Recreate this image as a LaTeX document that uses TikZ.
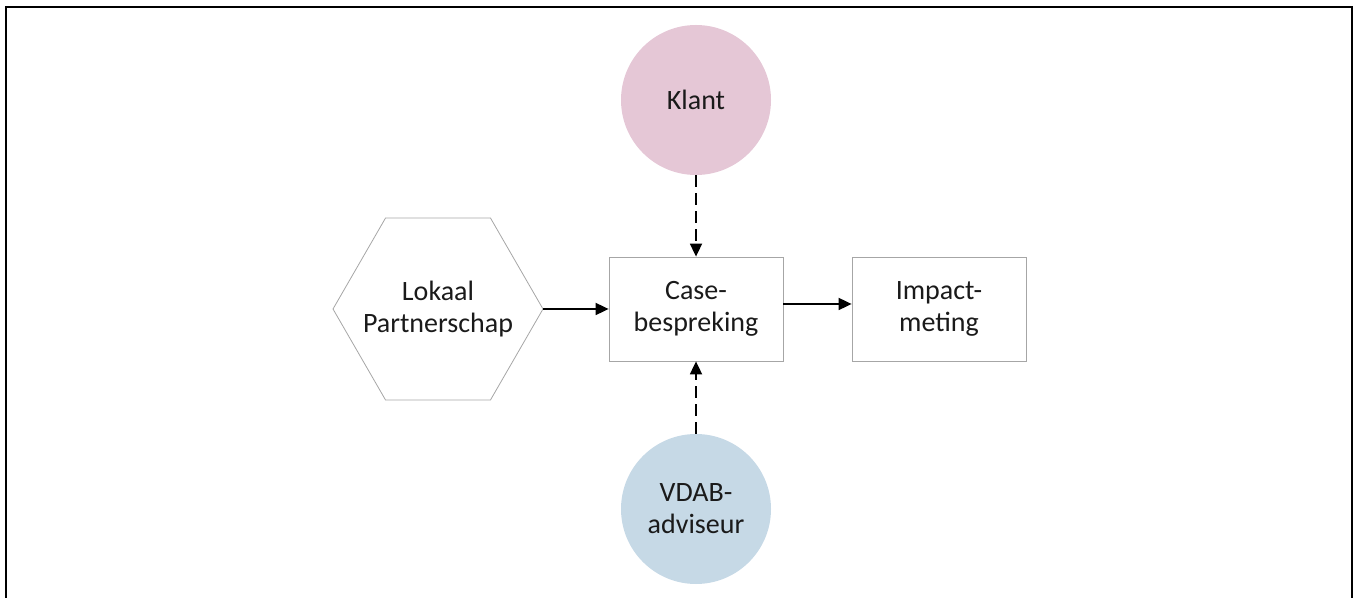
\documentclass[tikz,border=0pt]{standalone}
\usepackage{fontspec}
\setmainfont{Carlito}
\usetikzlibrary{shapes.geometric,arrows.meta}
\definecolor{klantpink}{HTML}{E5C7D6}
\definecolor{vdabblue}{HTML}{C6D9E6}
\definecolor{boxgray}{HTML}{A6A6A6}
\definecolor{txt}{HTML}{1A1A1A}
\tikzset{
  lbl/.style={font=\fontsize{28}{32}\selectfont, text=txt, align=center},
  procbox/.style={lbl, draw=boxgray, line width=0.8pt, minimum width=174pt, minimum height=104pt, inner sep=0pt},
  hexnode/.style={draw=boxgray, line width=0.8pt, regular polygon, regular polygon sides=6, shape border rotate=0, minimum size=210pt, inner sep=0pt},
  actor/.style={lbl, circle, minimum size=150pt, inner sep=0pt},
  flow/.style={line width=1.8pt, -{Triangle[length=13pt,width=12pt]}},
  dflow/.style={flow, dash pattern=on 12pt off 6pt},
}
\begin{document}
\begin{tikzpicture}[x=1pt,y=1pt]
\useasboundingbox (0,0) rectangle (1357,597);
\draw[line width=2pt] (6,-20) -- (6,590) -- (1352,590) -- (1352,-20);
\node[actor, fill=klantpink] (klant) at (696,497) {Klant};
\node[actor, fill=vdabblue] (vdab) at (696,88) {VDAB-\\adviseur};
\node[hexnode] (lp) at (438,288) {};
\node[lbl] (lptext) at (lp.center) {Lokaal\\Partnerschap};
\node[procbox] (case) at (696,288) {Case-\\bespreking};
\node[procbox] (impact) at (939,288) {Impact-\\meting};
\draw[flow] (lp.east) -- (case.west);
\draw[flow] ([yshift=5pt]case.east) -- ([yshift=5pt]impact.west);
\draw[dflow] (klant.south) -- (case.north);
\draw[dflow] (vdab.north) -- (case.south);
\end{tikzpicture}
\end{document}
